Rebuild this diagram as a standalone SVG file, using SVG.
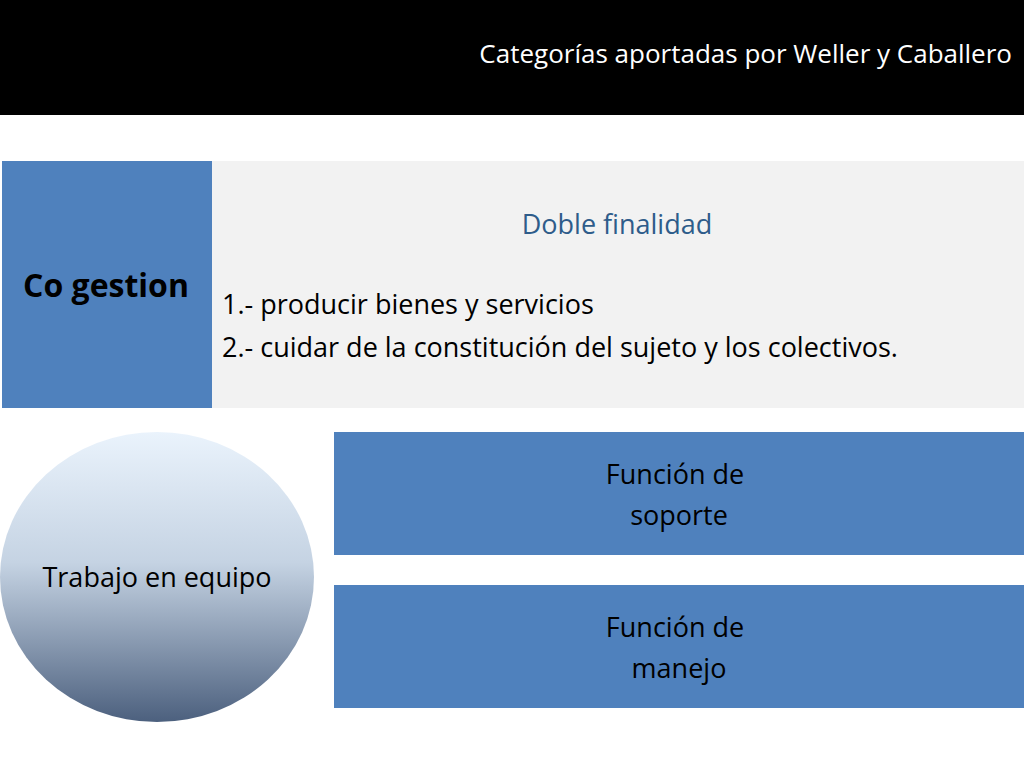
<svg xmlns="http://www.w3.org/2000/svg" width="1024" height="768" viewBox="0 0 1024 768">
<style>
text{font-family:"Open Sans","Liberation Sans",sans-serif;font-size:27px}
.b{fill:#4F81BD}
.w{fill:#000}
</style>
<defs>
<linearGradient id="g" x1="0" y1="0" x2="0" y2="1">
<stop offset="0" stop-color="#EAF3FC"/>
<stop offset="0.45" stop-color="#C5D3E3"/>
<stop offset="1" stop-color="#4C607E"/>
</linearGradient>
</defs>
<rect width="1024" height="768" fill="#fff"/>
<g id="header"><rect width="1024" height="115" fill="#000"/>
<text x="1012" y="63" text-anchor="end" fill="#fff" style="font-size:26px">Categorías aportadas por Weller y Caballero</text></g>
<g id="cogestion"><rect class="b" x="2" y="161" width="210" height="247"/>
<text x="106" y="297" text-anchor="middle" font-weight="bold" style="font-size:32px">Co gestion</text></g>
<g id="finalidad"><rect x="212" y="161" width="812" height="247" fill="#F2F2F2"/>
<text x="617" y="234" text-anchor="middle" fill="#2E5C8A">Doble finalidad</text>
<text x="222" y="314">1.- producir  bienes y servicios</text>
<text x="222" y="357">2.- cuidar de la constitución del sujeto y los colectivos.</text></g>
<g id="equipo"><ellipse cx="157" cy="577" rx="157" ry="145" fill="url(#g)"/>
<text x="157" y="587" text-anchor="middle">Trabajo en equipo</text></g>
<g id="soporte"><rect class="b" x="334" y="432" width="690" height="123"/>
<text x="675" y="484" text-anchor="middle">Función de</text>
<text x="679" y="525" text-anchor="middle">soporte</text></g>
<g id="manejo"><rect class="b" x="334" y="585" width="690" height="123"/>
<text x="675" y="637" text-anchor="middle">Función de</text>
<text x="679" y="678" text-anchor="middle">manejo</text></g>
<g id="connectors"/>
</svg>
